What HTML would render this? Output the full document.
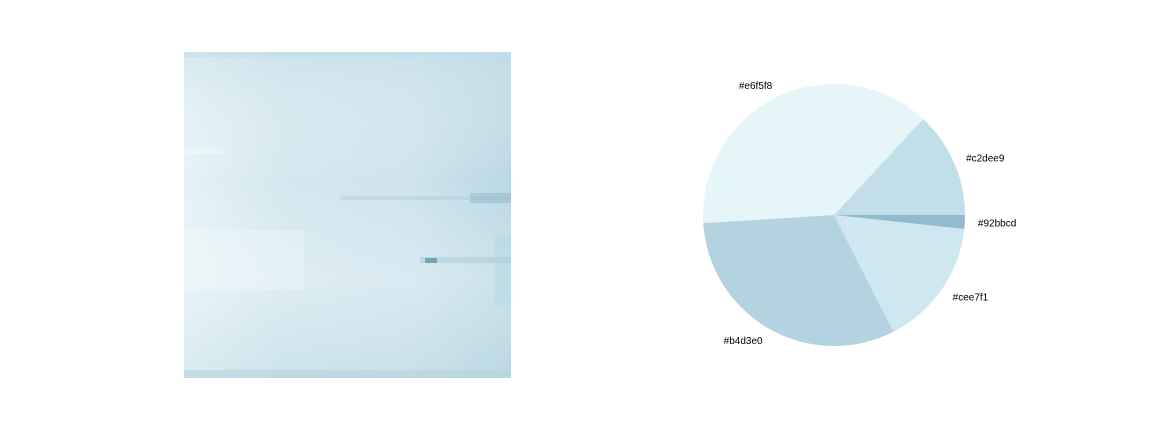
<!DOCTYPE html>
<html><head><meta charset="utf-8">
<style>
body{margin:0;background:#fff;}
svg text{font-family:"Liberation Sans",sans-serif;font-size:10px;fill:#000;}
</style></head>
<body>
<svg id="chart" width="1152" height="432" xmlns="http://www.w3.org/2000/svg">
<defs>
<linearGradient id="texH" x1="0" y1="0" x2="1" y2="0">
<stop offset="0" stop-color="#e4f3f6"/>
<stop offset="0.3" stop-color="#d3e8ef"/>
<stop offset="0.7" stop-color="#cde3ed"/>
<stop offset="1" stop-color="#b9d8e3"/>
</linearGradient>
<linearGradient id="texV" x1="0" y1="0" x2="0" y2="1">
<stop offset="0" stop-color="#c6dfe8" stop-opacity="0.5"/>
<stop offset="0.4" stop-color="#ffffff" stop-opacity="0"/>
<stop offset="0.7" stop-color="#f4fbfc" stop-opacity="0.3"/>
<stop offset="1" stop-color="#bcd8e2" stop-opacity="0.3"/>
</linearGradient>
</defs>
<g>
<rect x="184" y="52" width="327" height="326" fill="url(#texH)"/>
<rect x="184" y="52" width="327" height="326" fill="url(#texV)"/>
<rect x="184" y="52" width="327" height="5" fill="#c3dde7" opacity="0.6"/>
<rect x="184" y="148" width="40" height="6" fill="#eef9fa" opacity="0.6"/>
<rect x="340" y="196" width="171" height="4" fill="#a9cad8" opacity="0.4"/>
<rect x="470" y="193" width="41" height="10" fill="#8fb8c9" opacity="0.5"/>
<rect x="420" y="257" width="91" height="6" fill="#9cc2d2" opacity="0.4"/>
<rect x="425" y="258" width="12" height="5" fill="#5f97a8" opacity="0.8"/>
<rect x="184" y="230" width="120" height="60" fill="#f3fafc" opacity="0.35"/>
<rect x="184" y="370" width="327" height="8" fill="#b5d3de" opacity="0.6"/>
<rect x="495" y="235" width="16" height="70" fill="#a8d3e0" opacity="0.35"/>
</g>
<g id="pie"></g>
</svg>
<script>
const labels=["#c2dee9","#e6f5f8","#b4d3e0","#cee7f1","#92bbcd"];
const values=[13.1,37.9,31.5,15.8,1.7];
const colors=["#c2dee9","#e6f5f8","#b4d3e0","#cee7f1","#92bbcd"];
const cx=834,cy=215,r=131;
const g=document.getElementById('pie');
const NS="http://www.w3.org/2000/svg";
const total=values.reduce((a,b)=>a+b,0);
let a0=0;
values.forEach((v,i)=>{
  const a1=a0+v/total*2*Math.PI;
  const x0=cx+r*Math.cos(a0),y0=cy-r*Math.sin(a0);
  const x1=cx+r*Math.cos(a1),y1=cy-r*Math.sin(a1);
  const large=(a1-a0)>Math.PI?1:0;
  const p=document.createElementNS(NS,'path');
  p.setAttribute('d',`M${cx},${cy} L${x0},${y0} A${r},${r} 0 ${large} 0 ${x1},${y1} Z`);
  p.setAttribute('fill',colors[i]);
  
  
  g.appendChild(p);
  const am=(a0+a1)/2;
  const lx=cx+1.1*r*Math.cos(am),ly=cy-1.1*r*Math.sin(am);
  const t=document.createElementNS(NS,'text');
  t.setAttribute('x',lx);t.setAttribute('y',ly+4);
  t.setAttribute('text-anchor',Math.cos(am)>=0?'start':'end');
  t.textContent=labels[i];
  
  
  g.appendChild(t);
  a0=a1;
});
</script>
</body></html>
